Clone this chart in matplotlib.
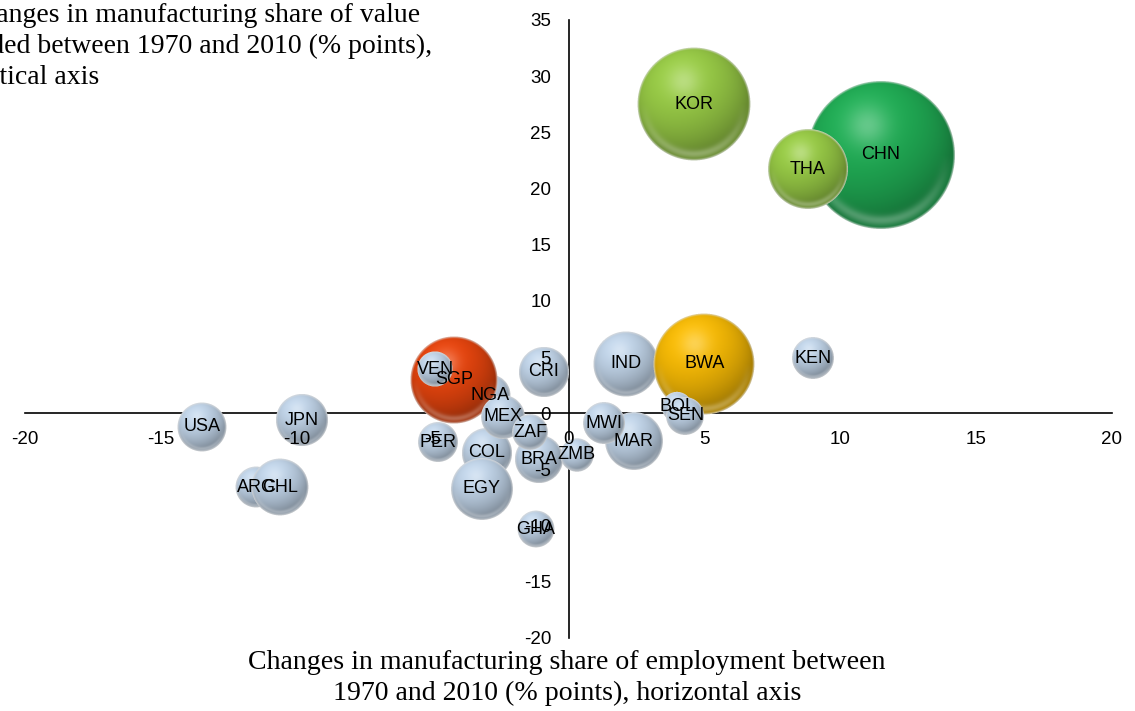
import numpy as np
import matplotlib
matplotlib.use("Agg")
import matplotlib.pyplot as plt
from matplotlib.colors import to_rgb
from matplotlib.offsetbox import OffsetImage, AnnotationBbox

plt.rcParams["axes.unicode_minus"] = False

# Country codes in drawing order (later entries sit on top)
countries = ["CHN", "THA", "KOR", "IND", "BWA", "KEN", "BOL", "SEN", "MAR", "MWI",
             "CRI", "NGA", "SGP", "VEN", "COL", "MEX", "EGY", "BRA", "ZMB", "ZAF",
             "GHA", "PER", "USA", "JPN", "ARG", "CHL"]
# Change in manufacturing share of employment, 1970-2010 (% points)
employment_change = [11.5, 8.8, 4.6, 2.1, 5.0, 9.0, 4.0, 4.3, 2.4, 1.3,
                     -0.9, -2.9, -4.2, -4.9, -3.0, -2.4, -3.2, -1.1, 0.3, -1.4,
                     -1.2, -4.8, -13.5, -9.8, -11.5, -10.6]
# Change in manufacturing share of value added, 1970-2010 (% points)
value_added_change = [23.0, 21.7, 27.5, 4.4, 4.4, 4.9, 0.6, -0.2, -2.5, -0.9,
                      3.7, 1.6, 3.0, 3.9, -3.5, -0.3, -6.7, -4.1, -3.7, -1.7,
                      -10.3, -2.6, -1.2, -0.6, -6.6, -6.6]
# Bubble size (relative weight)
bubble_size = [54.8, 16.0, 31.9, 10.6, 25.5, 4.4, 2.3, 3.6, 8.4, 4.4,
               6.3, 4.2, 19.0, 3.1, 6.3, 4.8, 9.6, 5.8, 2.8, 3.2,
               3.4, 4.0, 6.0, 6.8, 4.2, 8.1]
# Colour group of each country
group = ["chn", "green", "green", "blue", "yellow", "blue", "blue", "blue", "blue", "blue",
         "blue", "blue", "red", "blue", "blue", "blue", "blue", "blue", "blue", "blue",
         "blue", "blue", "blue", "blue", "blue", "blue"]

group_colors = {"blue": "#bed1e5", "red": "#e4440e", "yellow": "#f4b805",
                "green": "#96c845", "chn": "#20ab54"}

x_ticks = list(range(-20, 21, 5))
y_ticks = list(range(-20, 36, 5))

DPI = 100
PX_PER_SIZE = 10.0  # bubble radius in pixels = PX_PER_SIZE * sqrt(size)


def sphere_rgba(radius, color, ss=4):
    """Shaded glossy sphere as an RGBA pixel array."""
    n = int(np.ceil(radius)) * 2 + 4
    m = n * ss
    c = (np.arange(m) + 0.5) / ss - n / 2.0
    X, Y = np.meshgrid(c, c)
    u, v = X / radius, Y / radius
    d = np.hypot(u, v)
    z = np.sqrt(np.clip(1 - d * d, 0, 1))
    L = np.array([-0.3, -0.55, 0.78])
    L = L / np.linalg.norm(L)
    lam = np.clip(u * L[0] + v * L[1] + z * L[2], 0, 1)
    base = np.array(to_rgb(color))
    col = base[None, None, :] * (0.70 + 0.34 * lam)[..., None]
    col = np.clip(col, 0, 1)
    spec = 0.30 * np.exp(-((u + 0.18) ** 2 + (v + 0.40) ** 2) / 0.08)
    col = col + (1 - col) * spec[..., None]
    refl = 0.30 * np.clip(v, 0, 1) * np.exp(-((d - 0.88) / 0.07) ** 2)
    col = col + (1 - col) * refl[..., None]
    rim_w = 2.2 / radius
    rim = np.clip((d - (1 - rim_w)) / rim_w, 0, 1) * 0.8
    col = col * (1 - rim[..., None]) + 0.88 * rim[..., None]
    alpha = (d <= 1).astype(float)
    prem = np.concatenate([col * alpha[..., None], alpha[..., None]], axis=2)
    prem = prem.reshape(n, ss, n, ss, 4).mean(axis=(1, 3))
    a = prem[..., 3:4]
    rgb = np.where(a > 0, prem[..., :3] / np.maximum(a, 1e-9), 1.0)
    return np.clip(np.concatenate([rgb, a], axis=2), 0, 1)


fig = plt.figure(figsize=(11.35, 7.11), dpi=DPI)
W, H = 1135, 711
ax = fig.add_axes([25 / W, 1 - 638 / H, (1112 - 25) / W, (638 - 20) / H])
ax.set_xlim(-20, 20)
ax.set_ylim(-20, 35)
ax.patch.set_visible(False)

for side in ("top", "right"):
    ax.spines[side].set_visible(False)
ax.spines["left"].set_position(("data", 0))
ax.spines["bottom"].set_position(("data", 0))
for side in ("left", "bottom"):
    ax.spines[side].set_linewidth(1.2)
    ax.spines[side].set_zorder(1)

ax.set_xticks(x_ticks)
ax.set_yticks(y_ticks)
ax.set_xticklabels([str(t) for t in x_ticks])
ax.set_yticklabels([str(t) for t in y_ticks])
ax.tick_params(axis="both", length=0, labelsize=13.5)
ax.tick_params(axis="x", pad=13)
ax.tick_params(axis="y", pad=12.5)
for lab in ax.get_xticklabels() + ax.get_yticklabels():
    lab.set_fontfamily("Liberation Sans")
ax.xaxis.set_zorder(40)
ax.yaxis.set_zorder(40)

for i, (code, xv, yv, s, g) in enumerate(zip(countries, employment_change,
                                             value_added_change, bubble_size, group)):
    r = PX_PER_SIZE * np.sqrt(s)
    img = sphere_rgba(r, group_colors[g])
    ab = AnnotationBbox(OffsetImage(img, zoom=1, dpi_cor=False), (xv, yv),
                        frameon=False, pad=0, box_alignment=(0.5, 0.5))
    ab.set_zorder(5 + i * 0.1)
    ax.add_artist(ab)

for code, xv, yv in zip(countries, employment_change, value_added_change):
    ax.text(xv, yv, code, ha="center", va="center", fontsize=13,
            family="Liberation Sans", color="black", zorder=30)

fig.text(-36 / W, 1 - 3 / H,
         "Changes in manufacturing share of value\n"
         "added between 1970 and 2010 (% points),\n"
         "vertical axis",
         ha="left", va="top", fontsize=20, family="Liberation Serif",
         linespacing=1.32)

fig.text(567 / W, 1 - 678 / H,
         "Changes in manufacturing share of employment between\n"
         "1970 and 2010 (% points), horizontal axis",
         ha="center", va="center", fontsize=20.1, family="Liberation Serif",
         linespacing=1.32)

fig.savefig("out.png", dpi=DPI)
